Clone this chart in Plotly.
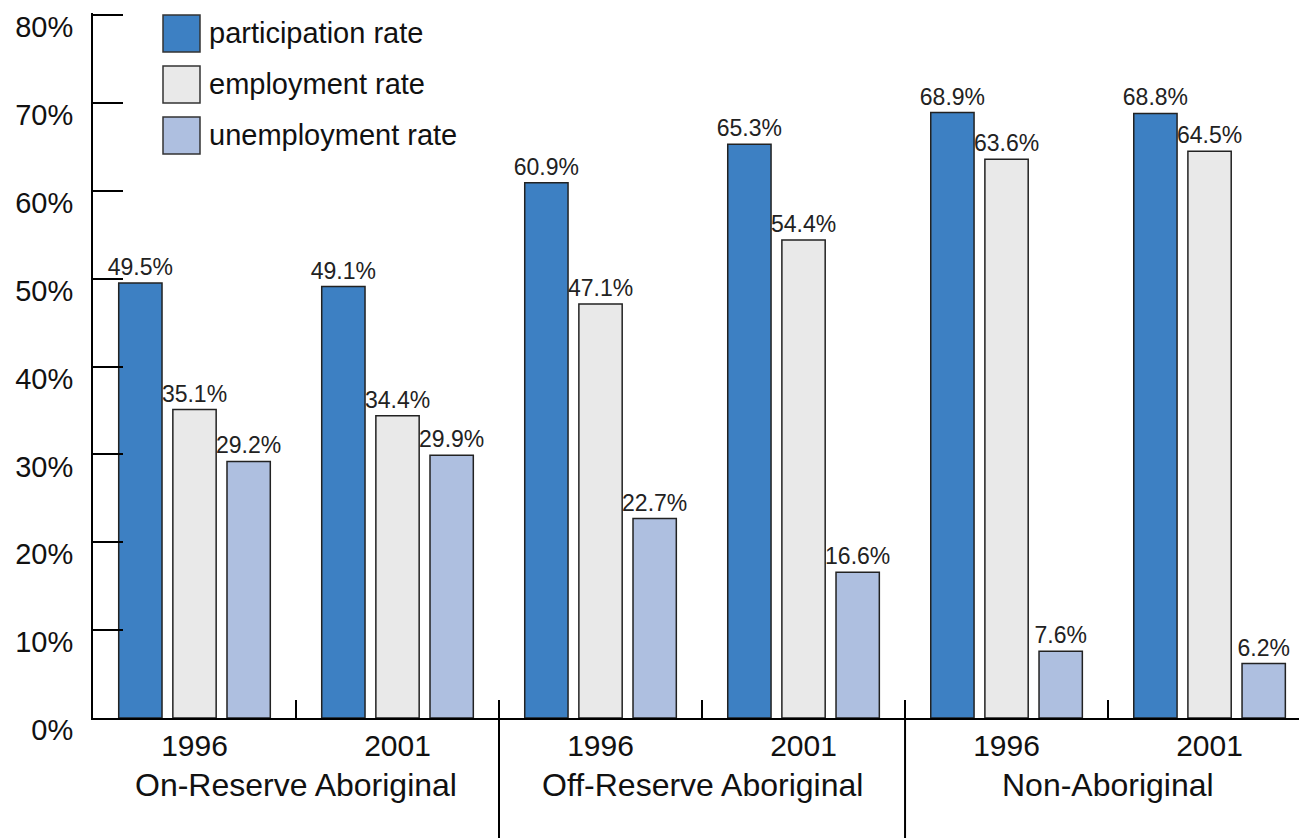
import plotly.graph_objects as go

groups = ["On-Reserve Aboriginal", "Off-Reserve Aboriginal", "Non-Aboriginal"]
years = ["1996", "2001"]
series_names = ["participation rate", "employment rate", "unemployment rate"]
participation = [49.5, 49.1, 60.9, 65.3, 68.9, 68.8]
employment = [35.1, 34.4, 47.1, 54.4, 63.6, 64.5]
unemployment = [29.2, 29.9, 22.7, 16.6, 7.6, 6.2]
colors = ["#3d80c3", "#e9e9e9", "#aebfe0"]
y_ticks = [0, 10, 20, 30, 40, 50, 60, 70, 80]
y_tick_text = [f"{v}%" for v in y_ticks]

OFF = 8  # page body margin
W, H = 1307 - OFF, 838 - OFF
L, T, R, B = 93 - OFF, 5, 0, 120
PW, PH = W - L - R, H - T - B
FONT = "Liberation Sans, Arial"

cats = [f"{g} {y}" for g in groups for y in years]
tick_text = [y for g in groups for y in years]

fig = go.Figure()
for name, vals, col in zip(series_names, [participation, employment, unemployment], colors):
    fig.add_trace(go.Bar(
        x=cats, y=vals, name=name,
        marker=dict(color=col, line=dict(color="#222222", width=1.5)),
        texttemplate="%{y:.1f}%", textposition="outside",
        textfont=dict(size=23, color="#222222", family=FONT),
        constraintext="none", cliponaxis=False, showlegend=False,
    ))

# screen pixel -> paper coords
def px_x(px):
    return (px - OFF - L) / PW

def px_y(py):
    return (H - B - (py - OFF)) / PH

shapes = []
annotations = []
for i in range(1, len(groups)):
    sep = 2 * i - 0.5
    shapes.append(dict(type="line", xref="x", yref="paper", x0=sep, x1=sep,
                       y0=0, y1=px_y(845), line=dict(color="black", width=2)))
for i, g in enumerate(groups):
    annotations.append(dict(x=2 * i + 0.5, xref="x", y=0, yref="paper", yshift=-67,
                            text=g, showarrow=False, xanchor="center", yanchor="middle",
                            font=dict(size=32, color="#111111", family=FONT)))
for i, (name, col) in enumerate(zip(series_names, colors)):
    top = 15 + i * 51
    shapes.append(dict(type="rect", xref="paper", yref="paper",
                       x0=px_x(163), x1=px_x(200), y0=px_y(top), y1=px_y(top + 37),
                       fillcolor=col, line=dict(color="#333333", width=1.5)))
    annotations.append(dict(x=px_x(207), xref="paper", y=px_y(top + 18.5), yref="paper",
                            text=name, showarrow=False, xanchor="left", yanchor="middle",
                            font=dict(size=29, color="#111111", family=FONT)))

fig.update_layout(
    width=W, height=H,
    margin=dict(l=L, r=R, t=T, b=B, autoexpand=False),
    plot_bgcolor="white", paper_bgcolor="white",
    barmode="group", bargap=0.2, bargroupgap=0.2,
    font=dict(family=FONT, color="#111111"),
    shapes=shapes, annotations=annotations,
    xaxis=dict(
        type="category", categoryorder="array", categoryarray=cats,
        range=[-0.5, 5.48], tickmode="array", tickvals=cats, ticktext=tick_text,
        tickson="boundaries", ticks="inside", ticklen=18, tickwidth=2, tickcolor="black",
        showline=True, linecolor="black", linewidth=2, showgrid=False,
        tickfont=dict(size=30, color="#111111"), ticklabelstandoff=0,
    ),
    yaxis=dict(
        range=[0, 80.23], tickmode="array", tickvals=y_ticks, ticktext=y_tick_text,
        ticks="inside", ticklen=30, tickwidth=2, tickcolor="black",
        showline=True, linecolor="black", linewidth=2, showgrid=False, zeroline=False,
        tickfont=dict(size=29, color="#111111"), ticklabelshift=12, ticklabelstandoff=12,
    ),
)

fig.write_html("out.html")
